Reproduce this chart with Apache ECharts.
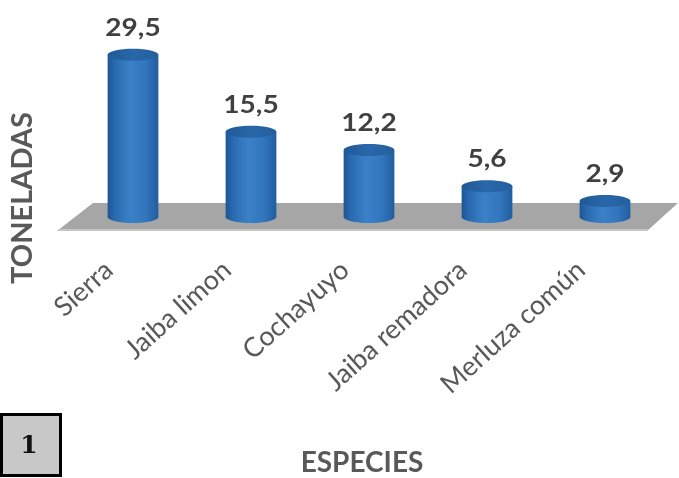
<!DOCTYPE html>
<html><head><meta charset="utf-8">
<script src="https://cdn.jsdelivr.net/npm/echarts@6/dist/echarts.min.js"></script>
<style>html,body{margin:0;padding:0;background:#fff}#c{width:679px;height:478px}</style>
</head><body><div id="c"></div>
<script>
const categories = ['Sierra', 'Jaiba limon', 'Cochayuyo', 'Jaiba remadora', 'Merluza común'];
const toneladas = [29.5, 15.5, 12.2, 5.6, 2.9];
const yAxisTitle = 'TONELADAS';
const xAxisTitle = 'ESPECIES';
const panelNumber = '1';

const chart = echarts.init(document.getElementById('c'), null, {renderer: 'canvas'});
function fmt(v) { return v.toFixed(1).replace('.', ','); }

function floorItem(params, api) {
  const cs = params.coordSys;
  const y0 = api.coord([0, 0])[1];
  const front = y0 + 14, back = y0 - 14;
  const L = cs.x, R = cs.x + cs.width;
  return {type: 'group', children: [
    {type: 'polygon', shape: {points: [[L + 19, back], [R + 14, back], [R - 17, front], [L - 17, front]]}, style: {fill: '#a6a6a6'}},
    {type: 'polygon', shape: {points: [[L - 15, front - 2], [R - 15, front - 2], [R - 17, front], [L - 17, front]]}, style: {fill: '#c4c4c4'}}
  ]};
}

function cylItem(params, api) {
  const idx = api.value(0), v = api.value(1);
  const top = api.coord([idx, v]), base = api.coord([idx, 0]);
  const bw = api.size([1, 0])[0];
  const rx = bw * 0.215, ry = 6;
  const cx = top[0];
  const body = new echarts.graphic.LinearGradient(0, 0, 1, 0, [
    {offset: 0, color: '#1c5594'}, {offset: 0.15, color: '#2a6bb0'},
    {offset: 0.45, color: '#3b81c7'}, {offset: 0.75, color: '#3276bd'},
    {offset: 1, color: '#215d9e'}
  ]);
  const cap = new echarts.graphic.LinearGradient(0, 0, 1, 0, [
    {offset: 0, color: '#1f5a98'}, {offset: 0.5, color: '#2a67a8'}, {offset: 1, color: '#235f9f'}
  ]);
  return {type: 'group', children: [
    {type: 'ellipse', shape: {cx: cx, cy: base[1], rx: rx, ry: ry}, style: {fill: body}},
    {type: 'rect', shape: {x: cx - rx, y: top[1], width: 2 * rx, height: base[1] - top[1]}, style: {fill: body}},
    {type: 'ellipse', shape: {cx: cx, cy: top[1], rx: rx, ry: ry}, style: {fill: cap}},
    {type: 'text', x: cx, y: top[1] - 27, scaleX: 1.12,
      style: {x: 0, y: 0, text: fmt(v), align: 'center', verticalAlign: 'middle',
      fontFamily: 'Lato', fontWeight: 'bold', fontSize: 25, fill: '#404040'}}
  ]};
}

const option = {
  backgroundColor: '#ffffff',
  animation: false,
  grid: [
    {left: 74, right: 15, top: 52, bottom: 261},
    {left: 50, right: 39, top: 200, bottom: 220}
  ],
  xAxis: [
    {type: 'category', gridIndex: 0, data: categories, show: false},
    {type: 'category', gridIndex: 1, data: categories,
      axisLine: {show: false}, axisTick: {show: false},
      axisLabel: {rotate: 42, interval: 0, margin: 8, fontFamily: 'Lato', fontSize: 27, color: '#595959'},
      name: xAxisTitle, nameLocation: 'middle', nameGap: 191,
      nameTextStyle: {fontFamily: 'Lato', fontWeight: 'bold', fontSize: 28, color: '#595959', padding: [0, 0, 0, 34]}}
  ],
  yAxis: [
    {type: 'value', gridIndex: 0, min: 0, max: 30, show: false},
    {type: 'value', gridIndex: 1, show: false}
  ],
  series: [
    {type: 'custom', xAxisIndex: 0, yAxisIndex: 0, data: [[0, 0]], renderItem: floorItem, silent: true, z: 1},
    {type: 'custom', xAxisIndex: 0, yAxisIndex: 0, data: toneladas.map((v, i) => [categories[i], v]),
      renderItem: cylItem, z: 2}
  ],
  graphic: [
    {type: 'text', x: 23, y: 198, rotation: Math.PI / 2,
      style: {text: yAxisTitle, fontFamily: 'Lato', fontWeight: 'bold', fontSize: 29, fill: '#595959', align: 'center', verticalAlign: 'middle'}},
    {type: 'rect', shape: {x: 1.5, y: 414.5, width: 59, height: 61}, style: {fill: '#c8c8c8', stroke: '#000', lineWidth: 3}},
    {type: 'text', x: 29, y: 446,
      style: {text: panelNumber, fontFamily: 'DejaVu Serif', fontWeight: 'bold', fontSize: 25, fill: '#111', align: 'center', verticalAlign: 'middle'}}
  ]
};
chart.setOption(option);
</script>
</body></html>
